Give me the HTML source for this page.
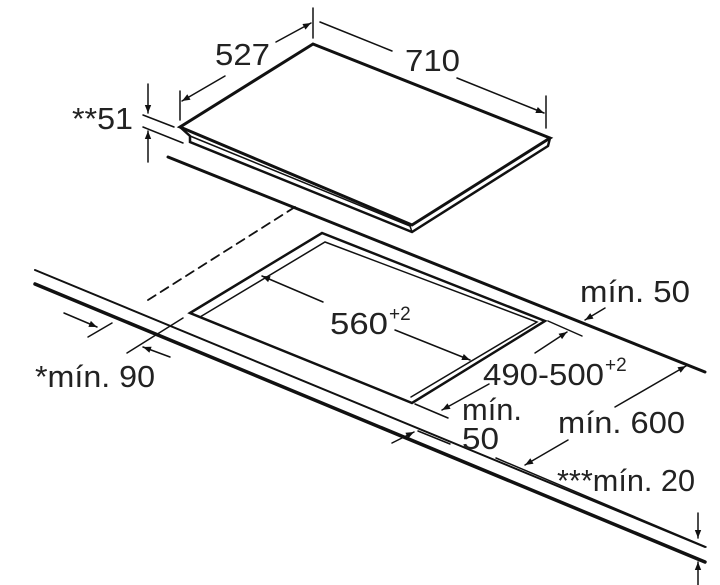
<!DOCTYPE html>
<html><head><style>
html,body{margin:0;padding:0;background:#fff;}
svg{display:block;}
text{font-family:"Liberation Sans",Arial,sans-serif;fill:#222;}
</style></head><body>
<svg width="720" height="585" viewBox="0 0 720 585" xmlns="http://www.w3.org/2000/svg">
<defs>
<marker id="a" viewBox="0 0 10 10" refX="10" refY="5" markerWidth="10" markerHeight="8" orient="auto" markerUnits="userSpaceOnUse">
<path d="M0,1 L10,5 L0,9 Z" fill="#111"/></marker>
</defs>
<g stroke="#111" fill="none" stroke-linecap="round">
<path d="M180,127 L313,44 L550,138 L412,225 Z" stroke-width="3"/>
<path d="M180,127 L190,136 L190,142 L412,232 L548,146 L550,138" stroke-width="2.5"/>
<path d="M190,136 L410,226" stroke-width="1.5"/>
<line x1="410" y1="226" x2="412" y2="232" stroke-width="1.5"/>
<line x1="168" y1="157" x2="705" y2="372" stroke-width="3"/>
<line x1="35" y1="270" x2="705" y2="547" stroke-width="2"/>
<line x1="35" y1="284" x2="705" y2="562" stroke-width="3.5"/>
<path d="M190,313 L322,233 L545,321 L412,403 Z" stroke-width="2.5"/>
<path d="M200,317 L325,242 L537,322 L411,397" stroke-width="1.5"/>
<line x1="295" y1="207" x2="148" y2="300" stroke-width="1.8" stroke-dasharray="9,6"/>
<line x1="313" y1="8" x2="313" y2="38" stroke-width="1.5"/>
<line x1="276" y1="42" x2="311" y2="23" stroke-width="1.5" marker-end="url(#a)"/>
<line x1="180" y1="91" x2="180" y2="120" stroke-width="1.5"/>
<line x1="225" y1="76" x2="182" y2="101" stroke-width="1.5" marker-end="url(#a)"/>
<line x1="320" y1="22" x2="392" y2="51" stroke-width="1.5"/>
<line x1="457" y1="78" x2="544" y2="113" stroke-width="1.5" marker-end="url(#a)"/>
<line x1="546" y1="96" x2="546" y2="128" stroke-width="1.5"/>
<line x1="148" y1="84" x2="148" y2="113" stroke-width="1.5" marker-end="url(#a)"/>
<line x1="148" y1="162" x2="148" y2="131" stroke-width="1.5" marker-end="url(#a)"/>
<line x1="143" y1="115" x2="174" y2="127" stroke-width="1.5"/>
<line x1="143" y1="127" x2="183" y2="143" stroke-width="1.5"/>
<line x1="323" y1="302" x2="262" y2="276" stroke-width="1.5" marker-end="url(#a)"/>
<line x1="395" y1="330" x2="470" y2="360" stroke-width="1.5" marker-end="url(#a)"/>
<line x1="548" y1="321" x2="582" y2="336" stroke-width="1.5"/>
<line x1="415" y1="404" x2="448" y2="418" stroke-width="1.5"/>
<line x1="535" y1="353" x2="567" y2="332" stroke-width="1.5" marker-end="url(#a)"/>
<line x1="489" y1="384" x2="442" y2="410" stroke-width="1.5" marker-end="url(#a)"/>
<line x1="605" y1="308" x2="585" y2="320" stroke-width="1.5" marker-end="url(#a)"/>
<line x1="615" y1="407" x2="686" y2="366" stroke-width="1.5" marker-end="url(#a)"/>
<line x1="568" y1="440" x2="525" y2="465" stroke-width="1.5" marker-end="url(#a)"/>
<line x1="496" y1="458" x2="706" y2="547" stroke-width="1.5"/>
<line x1="392" y1="443" x2="414" y2="432" stroke-width="1.5" marker-end="url(#a)"/>
<line x1="418" y1="431" x2="450" y2="444" stroke-width="1.5"/>
<line x1="698" y1="513" x2="698" y2="538" stroke-width="1.5" marker-end="url(#a)"/>
<line x1="698" y1="585" x2="698" y2="562" stroke-width="1.5" marker-end="url(#a)"/>
<line x1="64" y1="313" x2="97" y2="327" stroke-width="1.5" marker-end="url(#a)"/>
<line x1="88" y1="337" x2="112" y2="323" stroke-width="1.5"/>
<line x1="170" y1="357" x2="143" y2="347" stroke-width="1.5" marker-end="url(#a)"/>
<line x1="127" y1="353" x2="183" y2="318" stroke-width="1.5"/>
</g>
<g style="font-size:31px" lengthAdjust="spacingAndGlyphs">
<text x="215" y="65" textLength="55" lengthAdjust="spacingAndGlyphs">527</text>
<text x="405" y="71" textLength="55" lengthAdjust="spacingAndGlyphs">710</text>
<text x="72" y="129" textLength="61" lengthAdjust="spacingAndGlyphs">**51</text>
<text x="330" y="334" textLength="58" lengthAdjust="spacingAndGlyphs">560</text>
<text x="483" y="385" textLength="121" lengthAdjust="spacingAndGlyphs">490-500</text>
<text x="580" y="302" textLength="110" lengthAdjust="spacingAndGlyphs">mín. 50</text>
<text x="35" y="387" textLength="120" lengthAdjust="spacingAndGlyphs">*mín. 90</text>
<text x="462" y="420" textLength="60" lengthAdjust="spacingAndGlyphs">mín.</text>
<text x="462" y="449" textLength="37" lengthAdjust="spacingAndGlyphs">50</text>
<text x="558" y="433" textLength="127" lengthAdjust="spacingAndGlyphs">mín. 600</text>
<text x="557" y="491" textLength="138" lengthAdjust="spacingAndGlyphs">***mín. 20</text>
</g>
<text x="389" y="320" style="font-size:19px">+2</text>
<text x="605" y="371" style="font-size:19px">+2</text>
</svg>
</body></html>
